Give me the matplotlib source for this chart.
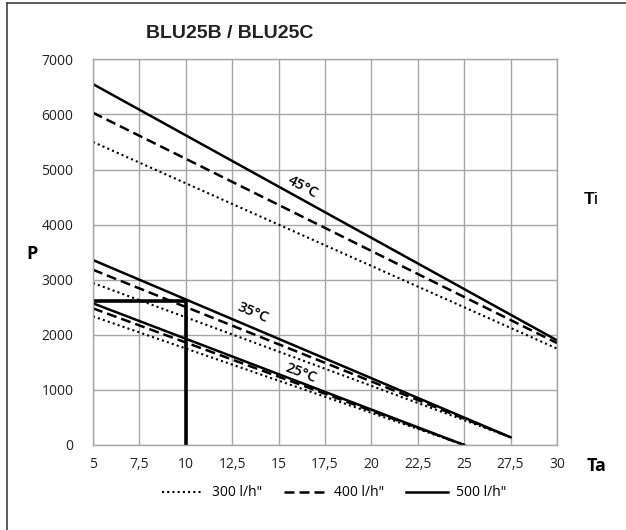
import matplotlib
matplotlib.use("Agg")
import matplotlib.pyplot as plt
from matplotlib.lines import Line2D

# Data (Ta in degC, P in W)
ta_45 = [5, 30]
p45_300 = [5500, 1750]
p45_400 = [6030, 1850]
p45_500 = [6550, 1900]

ta_35 = [5, 27.5]
p35_300 = [2940, 140]
p35_400 = [3180, 140]
p35_500 = [3357, 140]

ta_25 = [5, 25]
p25_300 = [2335, 0]
p25_400 = [2480, 0]
p25_500 = [2571, 0]

# example reading: Ta = 10 -> P
mark_ta = 10
mark_p = 2620

x_ticks = [5, 7.5, 10, 12.5, 15, 17.5, 20, 22.5, 25, 27.5, 30]
x_ticklabels = ["5", "7,5", "10", "12,5", "15", "17,5", "20", "22,5", "25", "27,5", "30"]
y_ticks = [0, 1000, 2000, 3000, 4000, 5000, 6000, 7000]

flow_labels = ['300 l/h"', '400 l/h"', '500 l/h"']
temp_labels = ["45°C", "35°C", "25°C"]

plt.rcParams["font.family"] = ["Open Sans", "DejaVu Sans"]

fig = plt.figure(figsize=(6.26, 5.30), dpi=100)
ax = fig.add_axes([93 / 626, 1 - 445 / 530, 464 / 626, 385.7 / 530])

dotted = dict(color="black", lw=1.5, linestyle=(0, (1, 1.5)))
dashed = dict(color="black", lw=1.8, linestyle=(0, (4, 2)))
solid = dict(color="black", lw=1.8, linestyle="-")

for ta, series in [(ta_45, (p45_300, p45_400, p45_500)),
                   (ta_35, (p35_300, p35_400, p35_500)),
                   (ta_25, (p25_300, p25_400, p25_500))]:
    ax.plot(ta, series[0], **dotted)
    ax.plot(ta, series[1], **dashed)
    ax.plot(ta, series[2], **solid)

# reading lines
ax.plot([x_ticks[0], mark_ta], [mark_p, mark_p], color="black", lw=2.6, solid_capstyle="butt")
ax.plot([mark_ta, mark_ta], [0, mark_p], color="black", lw=2.6, solid_capstyle="butt")

ax.text(16.3, 4690, temp_labels[0], rotation=-28, ha="center", va="center",
        fontsize=10.5, fontweight="semibold")
ax.text(13.6, 2400, temp_labels[1], rotation=-23, ha="center", va="center",
        fontsize=10.5, fontweight="semibold")
ax.text(16.2, 1310, temp_labels[2], rotation=-21, ha="center", va="center",
        fontsize=10.5, fontweight="semibold")

ax.set_xlim(5, 30)
ax.set_ylim(0, 7000)
ax.set_xticks(x_ticks)
ax.set_xticklabels(x_ticklabels)
ax.set_yticks(y_ticks)
ax.tick_params(length=0, labelsize=10, colors="#222222")
ax.tick_params(axis="x", pad=9)
ax.tick_params(axis="y", pad=14)
ax.grid(True, color="#a6a6a6", lw=1)
ax.set_axisbelow(True)
for s in ax.spines.values():
    s.set_color("#a6a6a6")
    s.set_linewidth(1)

fig.text(230 / 626, 1 - 33 / 530, "BLU25B / BLU25C", ha="center", va="center",
         fontsize=14, fontweight="bold", family="Liberation Sans", color="#222222")
fig.text(32 / 626, 1 - 254 / 530, "P", ha="center", va="center", fontsize=13, fontweight="bold")
fig.text(597 / 626, 1 - 466 / 530, "Ta", ha="center", va="center", fontsize=13, fontweight="bold")
fig.text(584 / 626, 1 - 200 / 530, "T", ha="left", va="center", fontsize=12.5,
         fontweight="bold", family="Liberation Sans")
fig.text(593.5 / 626, 1 - 200 / 530, "i", ha="left", va="center", fontsize=12.5,
         family="Liberation Sans")

handles = [Line2D([], [], **dotted), Line2D([], [], **dashed), Line2D([], [], **solid)]
fig.legend(handles, flow_labels, loc="center", bbox_to_anchor=(334 / 626, 1 - 493 / 530),
           ncol=3, frameon=False, fontsize=10, handlelength=3.0, handletextpad=0.6,
           columnspacing=1.6)

# outer frame (left and top edges visible)
fig.add_artist(Line2D([7 / 626, 7 / 626], [0, 1 - 3 / 530], color="#404040", lw=1.2))
fig.add_artist(Line2D([7 / 626, 1], [1 - 3 / 530, 1 - 3 / 530], color="#404040", lw=1.2))

fig.savefig("out.png", dpi=100)
